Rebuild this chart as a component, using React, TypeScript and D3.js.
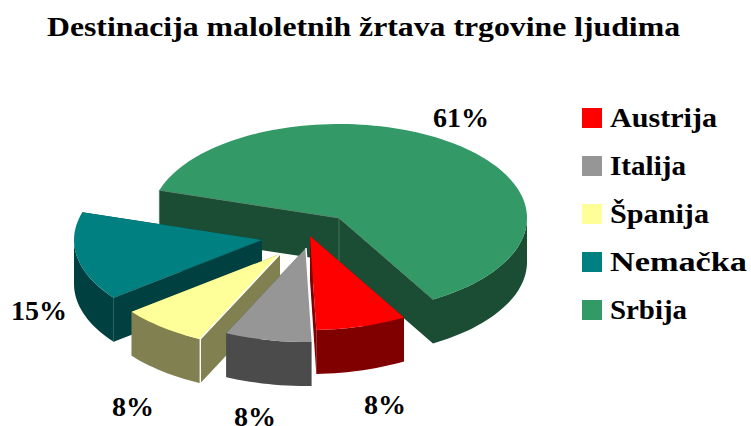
import React from "react";
import * as d3 from "d3";

const title = "Destinacija maloletnih žrtava trgovine ljudima";
const categories = ["Austrija", "Italija", "Španija", "Nemačka", "Srbija"];
const shares = [7.8, 7.5, 7.5, 15.3, 61.9];
const percentLabels = ["8%", "8%", "8%", "15%", "61%"];

const topColors = ["#ff0000", "#969696", "#ffff99", "#008080", "#339966"];
const sideColors = ["#800000", "#4b4b4b", "#808050", "#004040", "#1a4d33"];
const seamColors = [null, "#ffffff", "#ffffff", "#1f5d5d", "#4f7f66"];
const apexes: [number, number][] = [[310, 236], [306, 248], [280, 254], [262, 240], [339, 218]];
const labelPositions: [number, number][] = [[385, 414], [255, 426], [133, 416], [39, 320], [461, 127]];
const legendWidths = [107, 76, 99, 137, 77];

const RX = 188;
const RY = 94;
const DEPTH = 44;
const FONT = "'Liberation Serif', serif";
const deg = Math.PI / 180;

const pieLayout = d3.pie<number>().sort(null).value((d) => d).startAngle(150 * deg).endAngle(510 * deg);
const arcs = pieLayout(shares);
const line = d3.line();

function project(apex: [number, number], a: number, drop = 0): [number, number] {
  return [apex[0] + RX * Math.sin(a), apex[1] - RY * Math.cos(a) + drop];
}

function rim(apex: [number, number], a0: number, a1: number, drop = 0): [number, number][] {
  const n = Math.max(2, Math.ceil((a1 - a0) / (2 * deg)));
  return d3.range(n + 1).map((i) => project(apex, a0 + ((a1 - a0) * i) / n, drop));
}

function outerWall(apex: [number, number], a0: number, a1: number): [number, number][][] {
  const out: [number, number][][] = [];
  for (const [lo, hi] of [[90 * deg, 270 * deg], [450 * deg, 630 * deg]]) {
    const s = Math.max(a0, lo);
    const e = Math.min(a1, hi);
    if (e > s) out.push([...rim(apex, s, e), ...rim(apex, s, e, DEPTH).reverse()]);
  }
  return out;
}

function cutWall(apex: [number, number], a: number): [number, number][] {
  const [ax, ay] = apex;
  const p = project(apex, a);
  return [[ax, ay], p, [p[0], p[1] + DEPTH], [ax, ay + DEPTH]];
}

const paintOrder = [4, 3, 2, 1, 0];

export default function App() {
  return (
    <svg
      width={751}
      height={426}
      viewBox="0 0 751 426"
      style={{ position: "absolute", left: 0, top: 0, background: "#fff" }}
    >
      <text x={47} y={36} fontFamily={FONT} fontWeight="bold" fontSize={28} textLength={633} lengthAdjust="spacingAndGlyphs" fill="#000">
        {title}
      </text>

      {paintOrder.map((i) => {
        const d = arcs[i];
        const apex = apexes[i];
        const a0 = d.startAngle;
        const a1 = d.endAngle;
        const seam = seamColors[i];
        const p0 = project(apex, a0);
        const p1 = project(apex, a1);
        return (
          <g key={categories[i]}>
            <path d={line(cutWall(apex, a1))! + "Z"} fill={sideColors[i]} />
            <path d={line(cutWall(apex, a0))! + "Z"} fill={sideColors[i]} />
            {outerWall(apex, a0, a1).map((w, k) => (
              <path key={k} d={line(w)! + "Z"} fill={sideColors[i]} />
            ))}
            <path d={line([apex, ...rim(apex, a0, a1)])! + "Z"} fill={topColors[i]} />
            {seam && i < 4 && (
              <path
                d={line([apex, p0, [p0[0], p0[1] + DEPTH]])!}
                fill="none"
                stroke={seam}
                strokeWidth={i === 3 ? 0.6 : 1.4}
              />
            )}
            {i === 4 && (
              <path
                d={
                  line([[apex[0], apex[1]], [apex[0], apex[1] + DEPTH]])! +
                  line([[p0[0], p0[1]], [p0[0], p0[1] + DEPTH]])! +
                  line([p1, apex, p0])!
                }
                fill="none"
                stroke={seam!}
                strokeWidth={0.8}
              />
            )}
          </g>
        );
      })}

      {percentLabels.map((t, i) => (
        <text key={i} x={labelPositions[i][0]} y={labelPositions[i][1]} textAnchor="middle" fontFamily={FONT} fontWeight="bold" fontSize={28} fill="#000">
          {t}
        </text>
      ))}

      {categories.map((c, i) => (
        <g key={c}>
          <rect x={582} y={108 + i * 48} width={20} height={20} fill={topColors[i]} />
          <text x={610} y={127 + i * 48} fontFamily={FONT} fontWeight="bold" fontSize={28} textLength={legendWidths[i]} lengthAdjust="spacingAndGlyphs" fill="#000">
            {c}
          </text>
        </g>
      ))}
    </svg>
  );
}
